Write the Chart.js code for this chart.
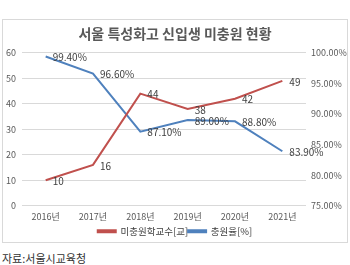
<!DOCTYPE html>
<html>
<head>
<meta charset="utf-8">
<script src="https://cdn.jsdelivr.net/npm/chart.js@4"></script>
<style>
  body { margin: 0; background: #fff; width: 350px; height: 265px; overflow: hidden; }
  #box { position: absolute; left: 2px; top: 19px; width: 344px; height: 222px; border: 1px solid #d9d9d9; }
  #myChart { position: absolute; left: 0; top: 0; }
  #src { position: absolute; left: 2px; top: 250px; font: 11px "Noto Sans CJK KR", sans-serif; color: #333; }
</style>
</head>
<body>
<div id="box"><canvas id="myChart" width="344" height="226"></canvas></div>
<div id="src">자료:서울시교육청</div>
<script>
const years = ["2016년", "2017년", "2018년", "2019년", "2020년", "2021년"];
const unfilledSchools = [10, 16, 44, 38, 42, 49];
const fillRate = [99.4, 96.6, 87.1, 89.0, 88.8, 83.9];
const leftTicks = [0, 10, 20, 30, 40, 50, 60];
const rightTicks = [75, 80, 85, 90, 95, 100];

const FONT = '"Noto Sans CJK KR", sans-serif';

// simple value labels to the right of each point
const pointLabels = {
    id: 'pointLabels',
    afterDatasetsDraw(chart) {
        const ctx = chart.ctx;
        ctx.save();
        ctx.font = '10px ' + FONT;
        ctx.fillStyle = '#404040';
        ctx.textAlign = 'left';
        ctx.textBaseline = 'middle';
        chart.data.datasets.forEach((ds, i) => {
            chart.getDatasetMeta(i).data.forEach((pt, j) => {
                const v = ds.data[j];
                const txt = i === 1 ? v.toFixed(2) + '%' : String(v);
                ctx.fillText(txt, pt.x + 7, pt.y + 1);
            });
        });
        ctx.restore();
    }
};

const ctx = document.getElementById("myChart").getContext('2d');
new Chart(ctx, {
    type: "line",
    data: {
        labels: years,
        datasets: [
            {
                label: "미충원학교수[교]",
                data: unfilledSchools,
                borderColor: "#C0504D",
                backgroundColor: "#C0504D",
                borderWidth: 2,
                pointRadius: 0,
                tension: 0,
                yAxisID: 'y'
            },
            {
                label: "충원율[%]",
                data: fillRate,
                borderColor: "#4F81BD",
                backgroundColor: "#4F81BD",
                borderWidth: 2,
                pointRadius: 0,
                tension: 0,
                yAxisID: 'y1'
            }
        ]
    },
    options: {
        responsive: false,
        animation: false,
        layout: { padding: { left: 0, right: 0, top: 0, bottom: 0 } },
        plugins: {
            title: {
                display: true,
                text: "서울 특성화고 신입생 미충원 현황",
                color: '#595959',
                font: { family: FONT, size: 14, weight: 'bold' },
                padding: { top: 5, bottom: 11 }
            },
            legend: {
                position: 'bottom',
                labels: {
                    boxWidth: 18,
                    boxHeight: 2,
                    padding: 0,
                    color: '#404040',
                    font: { family: FONT, size: 9.5 }
                }
            },
            tooltip: { enabled: false }
        },
        scales: {
            x: {
                offset: true,
                grid: { display: false, drawTicks: false },
                border: { display: false },
                ticks: { color: '#595959', font: { family: FONT, size: 9 }, maxRotation: 0, padding: 5 }
            },
            y: {
                position: 'left',
                min: 0,
                max: 60,
                afterBuildTicks: axis => { axis.ticks = leftTicks.map(v => ({ value: v })); },
                afterFit: axis => { axis.width = 19; },
                grid: { color: '#d9d9d9', drawTicks: false },
                border: { display: false },
                ticks: { color: '#595959', font: { family: FONT, size: 9 }, padding: 6 }
            },
            y1: {
                position: 'right',
                min: 75,
                max: 100,
                afterBuildTicks: axis => { axis.ticks = rightTicks.map(v => ({ value: v })); },
                afterFit: axis => { axis.width = 41; },
                grid: { display: false, drawTicks: false },
                border: { display: false },
                ticks: {
                    color: '#595959',
                    font: { family: FONT, size: 9 },
                    padding: 5,
                    callback: v => v.toFixed(2) + '%'
                }
            }
        }
    },
    plugins: [pointLabels]
});
</script>
</body>
</html>
